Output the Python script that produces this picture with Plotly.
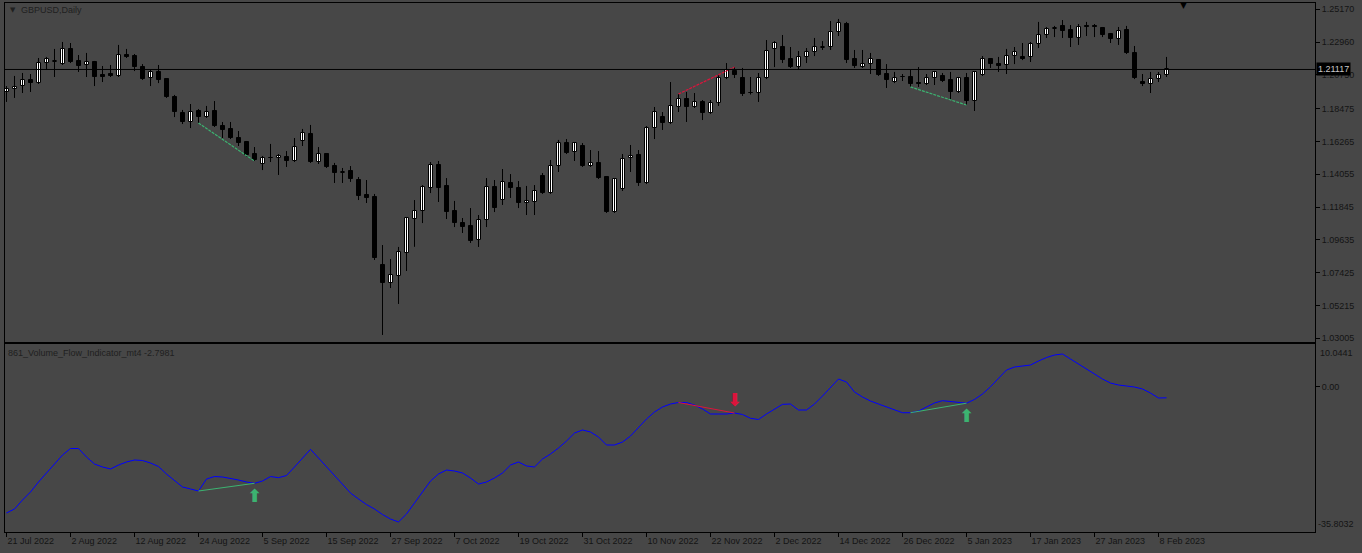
import plotly.graph_objects as go

# ---------------- data ----------------
OPEN = [1.1960, 1.1980, 1.2000, 1.2041, 1.2020, 1.2155, 1.2165, 1.2148, 1.2250, 1.2169,
        1.2142, 1.2162, 1.2074, 1.2081, 1.2068, 1.2206, 1.2202, 1.2128, 1.2054, 1.2095,
        1.2047, 1.1926, 1.1818, 1.1758, 1.1832, 1.1791, 1.1832, 1.1731, 1.1711, 1.1650,
        1.1623, 1.1542, 1.1475, 1.1515, 1.1515, 1.1522, 1.1495, 1.1630, 1.1677, 1.1488,
        1.1542, 1.1461, 1.1414, 1.1428, 1.1367, 1.1266, 1.1252, 1.0794, 1.0673, 1.0720,
        1.0875, 1.1104, 1.1158, 1.1313, 1.1468, 1.1327, 1.1158, 1.1077, 1.1057, 1.0963,
        1.1097, 1.1320, 1.1232, 1.1347, 1.1313, 1.1212, 1.1219, 1.1394, 1.1279, 1.1461,
        1.1616, 1.1556, 1.1596, 1.1461, 1.1482, 1.1387, 1.1151, 1.1306, 1.1515, 1.1535,
        1.1347, 1.1717, 1.1791, 1.1751, 1.1859, 1.1913, 1.1859, 1.1893, 1.1818, 1.1886,
        1.2054, 1.2101, 1.2054, 1.1953, 1.1953, 1.2054, 1.2250, 1.2263, 1.2182, 1.2128,
        1.2196, 1.2229, 1.2256, 1.2263, 1.2364, 1.2418, 1.2182, 1.2128, 1.2149, 1.2175,
        1.2081, 1.2027, 1.2061, 1.2061, 1.2020, 1.2014, 1.2054, 1.2068, 1.2041, 1.1960,
        1.2054, 1.1899, 1.2074, 1.2182, 1.2149, 1.2142, 1.2202, 1.2196, 1.2196, 1.2283,
        1.2344, 1.2384, 1.2405, 1.2378, 1.2324, 1.2403, 1.2405, 1.2391, 1.2351, 1.2317,
        1.2378, 1.2223, 1.2027, 1.2014, 1.2047, 1.2074]
HIGH = [1.2000, 1.2068, 1.2088, 1.2081, 1.2189, 1.2196, 1.2250, 1.2297, 1.2290, 1.2209,
        1.2223, 1.2169, 1.2135, 1.2142, 1.2277, 1.2250, 1.2216, 1.2148, 1.2108, 1.2142,
        1.2054, 1.1940, 1.1839, 1.1879, 1.1845, 1.1866, 1.1899, 1.1758, 1.1758, 1.1697,
        1.1630, 1.1589, 1.1529, 1.1610, 1.1542, 1.1562, 1.1650, 1.1711, 1.1738, 1.1589,
        1.1549, 1.1482, 1.1448, 1.1461, 1.1387, 1.1367, 1.1273, 1.0929, 1.0835, 1.0916,
        1.1118, 1.1232, 1.1333, 1.1488, 1.1495, 1.1380, 1.1226, 1.1111, 1.1178, 1.1131,
        1.1380, 1.1367, 1.1441, 1.1407, 1.1360, 1.1327, 1.1333, 1.1414, 1.1502, 1.1637,
        1.1643, 1.1623, 1.1616, 1.1569, 1.1562, 1.1394, 1.1380, 1.1542, 1.1603, 1.1569,
        1.1731, 1.1859, 1.1825, 1.2027, 1.1946, 1.1960, 1.1953, 1.1906, 1.1906, 1.2081,
        1.2155, 1.2128, 1.2122, 1.2061, 1.2088, 1.2310, 1.2303, 1.2344, 1.2263, 1.2236,
        1.2256, 1.2324, 1.2303, 1.2438, 1.2452, 1.2432, 1.2243, 1.2243, 1.2223, 1.2182,
        1.2148, 1.2095, 1.2081, 1.2108, 1.2128, 1.2081, 1.2101, 1.2088, 1.2095, 1.2061,
        1.2088, 1.2101, 1.2202, 1.2189, 1.2196, 1.2250, 1.2263, 1.2290, 1.2297, 1.2432,
        1.2398, 1.2405, 1.2445, 1.2411, 1.2418, 1.2432, 1.2418, 1.2398, 1.2357, 1.2398,
        1.2405, 1.2270, 1.2081, 1.2095, 1.2095, 1.2196]
LOW = [1.1893, 1.1920, 1.1953, 1.1960, 1.2014, 1.2108, 1.2061, 1.2142, 1.2155, 1.2095,
       1.2061, 1.2000, 1.2027, 1.2061, 1.2061, 1.2189, 1.2101, 1.2041, 1.2000, 1.2020,
       1.1920, 1.1791, 1.1744, 1.1717, 1.1751, 1.1785, 1.1724, 1.1650, 1.1643, 1.1596,
       1.1522, 1.1495, 1.1434, 1.1488, 1.1401, 1.1455, 1.1488, 1.1596, 1.1482, 1.1475,
       1.1448, 1.1347, 1.1347, 1.1354, 1.1232, 1.1212, 1.0828, 1.0323, 1.0639, 1.0532,
       1.0754, 1.0917, 1.1077, 1.1279, 1.1219, 1.1104, 1.1050, 1.1010, 1.0943, 1.0916,
       1.1050, 1.1151, 1.1199, 1.1246, 1.1178, 1.1131, 1.1131, 1.1273, 1.1273, 1.1421,
       1.1542, 1.1495, 1.1455, 1.1455, 1.1374, 1.1145, 1.1145, 1.1293, 1.1421, 1.1327,
       1.1340, 1.1643, 1.1704, 1.1744, 1.1825, 1.1758, 1.1852, 1.1771, 1.1812, 1.1866,
       1.2047, 1.2054, 1.1933, 1.1943, 1.1893, 1.2047, 1.2128, 1.2155, 1.2122, 1.2108,
       1.2155, 1.2202, 1.2243, 1.2243, 1.2337, 1.2155, 1.2122, 1.2122, 1.2081, 1.2068,
       1.1987, 1.2020, 1.2034, 1.1994, 1.1994, 1.2007, 1.2007, 1.2027, 1.1906, 1.1953,
       1.1872, 1.1832, 1.2068, 1.2122, 1.2095, 1.2081, 1.2148, 1.2175, 1.2162, 1.2256,
       1.2324, 1.2330, 1.2324, 1.2263, 1.2277, 1.2337, 1.2330, 1.2330, 1.2290, 1.2277,
       1.2216, 1.2047, 1.2000, 1.1953, 1.2027, 1.2061]
CLOSE = [1.1980, 1.1994, 1.2041, 1.2020, 1.2155, 1.2182, 1.2169, 1.2250, 1.2162, 1.2135,
         1.2162, 1.2061, 1.2061, 1.2068, 1.2209, 1.2199, 1.2128, 1.2047, 1.2095, 1.2041,
         1.1926, 1.1825, 1.1758, 1.1825, 1.1791, 1.1825, 1.1731, 1.1704, 1.1650, 1.1616,
         1.1535, 1.1502, 1.1515, 1.1512, 1.1529, 1.1495, 1.1589, 1.1684, 1.1488, 1.1542,
         1.1455, 1.1414, 1.1424, 1.1374, 1.1259, 1.1246, 1.0841, 1.0673, 1.0727, 1.0882,
         1.1111, 1.1158, 1.1320, 1.1468, 1.1313, 1.1151, 1.1077, 1.1050, 1.0956, 1.1097,
         1.1320, 1.1178, 1.1354, 1.1313, 1.1212, 1.1226, 1.1293, 1.1279, 1.1461, 1.1616,
         1.1549, 1.1616, 1.1461, 1.1482, 1.1380, 1.1151, 1.1374, 1.1508, 1.1529, 1.1347,
         1.1717, 1.1825, 1.1751, 1.1866, 1.1913, 1.1859, 1.1893, 1.1818, 1.1886, 1.2054,
         1.2108, 1.2074, 1.1946, 1.1956, 1.2054, 1.2236, 1.2290, 1.2175, 1.2128, 1.2196,
         1.2229, 1.2263, 1.2263, 1.2364, 1.2425, 1.2175, 1.2135, 1.2149, 1.2182, 1.2074,
         1.2041, 1.2054, 1.2059, 1.2014, 1.2014, 1.2054, 1.2095, 1.2034, 1.1960, 1.2054,
         1.1899, 1.2095, 1.2182, 1.2149, 1.2135, 1.2202, 1.2229, 1.2182, 1.2283, 1.2344,
         1.2384, 1.2394, 1.2371, 1.2324, 1.2398, 1.2400, 1.2398, 1.2344, 1.2317, 1.2371,
         1.2223, 1.2054, 1.2014, 1.2047, 1.2074, 1.21117]

# Volume Flow Indicator values
IND = [-31.34, -30.35, -28.12, -26.14, -23.66, -21.43, -19.20, -16.97, -15.36, -15.36,
       -17.46, -19.20, -19.94, -20.44, -19.45, -18.70, -18.21, -18.33, -18.95, -19.82,
       -21.68, -23.41, -24.90, -25.39, -25.89, -22.92, -22.30, -22.42, -22.74, -23.16,
       -23.66, -23.98, -23.41, -22.30, -22.59, -22.05, -19.94, -17.71, -15.56, -17.71,
       -19.94, -22.17, -24.40, -26.39, -27.87, -29.24, -30.35, -31.71, -32.83, -33.57,
       -31.59, -28.86, -26.14, -23.41, -21.68, -20.69, -20.93, -21.43, -22.67, -24.16,
       -23.66, -22.67, -21.43, -19.45, -18.70, -19.69, -19.94, -17.96, -16.72, -15.23,
       -13.50, -11.52, -10.77, -11.27, -12.51, -14.49, -14.49, -13.75, -12.26, -10.03,
       -8.05, -6.31, -5.07, -4.33, -3.96, -3.96, -4.58, -5.57, -6.81, -6.81,
       -6.81, -6.56, -6.93, -7.87, -8.17, -6.81, -5.57, -4.41, -4.33, -5.82,
       -5.82, -4.33, -2.35, -0.12, 1.86, 1.12, -1.36, -2.60, -3.59, -4.33,
       -5.07, -5.82, -6.49, -6.49, -6.07, -5.07, -4.08, -3.51, -3.76, -3.91,
       -4.13, -3.20, -1.85, -0.04, 2.11, 4.09, 4.84, 5.09, 5.33, 6.32,
       7.19, 7.81, 8.06, 6.82, 5.58, 4.47, 3.10, 1.86, 0.87, 0.38,
       0.13, -0.12, -0.61, -1.61, -2.84, -2.7981]

# divergences: (start bar, end bar, type)
DIVERGENCES = [(24, 31, "bull"), (84, 91, "bear"), (113, 120, "bull")]

PRICE_TICKS = [1.25170, 1.22960, 1.20750, 1.18475, 1.16265, 1.14055,
               1.11845, 1.09635, 1.07425, 1.05215, 1.03005]
IND_MAX, IND_MIN = 10.0441, -35.8032
DATE_LABELS = ["21 Jul 2022", "2 Aug 2022", "12 Aug 2022", "24 Aug 2022", "5 Sep 2022",
               "15 Sep 2022", "27 Sep 2022", "7 Oct 2022", "19 Oct 2022", "31 Oct 2022",
               "10 Nov 2022", "22 Nov 2022", "2 Dec 2022", "14 Dec 2022", "26 Dec 2022",
               "5 Jan 2023", "17 Jan 2023", "27 Jan 2023", "8 Feb 2023"]
LABEL_STEP = 8
SYMBOL_TITLE = "GBPUSD,Daily"
IND_NAME = "861_Volume_Flow_Indicator_mt4"

# ---------------- styling ----------------
BG = "#474747"
TXT = "#141414"
FONT = "Liberation Sans"
GREEN = "#3CB371"
RED = "#DC143C"
W, H = 1362, 553
ML, MR, MT, MB = 5, 47, 3, 21

n = len(CLOSE)
idx = list(range(n))

fig = go.Figure()

# wicks
wx, wy = [], []
for i in idx:
    wx += [i, i, None]
    wy += [LOW[i], HIGH[i], None]
fig.add_trace(go.Scatter(x=wx, y=wy, mode="lines", line=dict(color="black", width=1),
                         xaxis="x", yaxis="y", hoverinfo="skip"))

# bodies
base = [min(o, c) for o, c in zip(OPEN, CLOSE)]
height = [max(abs(c - o), 0.00015) for o, c in zip(OPEN, CLOSE)]
colors = ["white" if c >= o else "black" for o, c in zip(OPEN, CLOSE)]
fig.add_trace(go.Bar(x=idx, y=height, base=base, width=0.5,
                     marker=dict(color=colors, line=dict(color="black", width=1)),
                     xaxis="x", yaxis="y", hoverinfo="skip"))

# divergence lines on price and indicator
for a, b, kind in DIVERGENCES:
    col = GREEN if kind == "bull" else RED
    src = LOW if kind == "bull" else HIGH
    fig.add_trace(go.Scatter(x=[a, b], y=[src[a], src[b]], mode="lines",
                             line=dict(color=col, width=1.2, dash="3px,1px"),
                             xaxis="x", yaxis="y", hoverinfo="skip"))

# indicator line
fig.add_trace(go.Scatter(x=idx, y=IND, mode="lines", line=dict(color="#0000FF", width=1),
                         xaxis="x2", yaxis="y2", hoverinfo="skip"))
for a, b, kind in DIVERGENCES:
    col = GREEN if kind == "bull" else RED
    fig.add_trace(go.Scatter(x=[a, b], y=[IND[a], IND[b]], mode="lines",
                             line=dict(color=col, width=1),
                             xaxis="x2", yaxis="y2", hoverinfo="skip"))

# geometry
plot_h = H - MT - MB
main_bottom_px, ind_top_px = 342, 344
main_dom = [(H - MB - main_bottom_px) / plot_h, 1]
ind_dom = [0, (H - MB - ind_top_px) / plot_h]
half_px = 0.0625  # half a pixel in bar units, keeps 1px wicks crisp
xr = [-0.125 - half_px, 163.625 - half_px]

axis_common = dict(showgrid=False, zeroline=False, showline=True, mirror=True,
                   linecolor="black", linewidth=1)

annotations = []
# signal arrows (thick arrow glyphs) next to the indicator value
for a, b, kind in DIVERGENCES:
    if kind == "bull":
        annotations.append(dict(x=b, y=IND[b], xref="x2", yref="y2", text="<b>⬆</b>",
                                showarrow=False, xanchor="center", yanchor="middle",
                                yshift=-12, font=dict(family="DejaVu Sans", size=18, color=GREEN)))
    else:
        annotations.append(dict(x=b, y=IND[b], xref="x2", yref="y2", text="<b>⬇</b>",
                                showarrow=False, xanchor="center", yanchor="middle",
                                yshift=13, font=dict(family="DejaVu Sans", size=18, color=RED)))

def px_x(px):
    return (px - ML) / (W - ML - MR)

def px_y(py):
    return (H - MB - py) / plot_h

annotations += [
    dict(x=px_x(8), y=px_y(10), xref="paper", yref="paper", text="▼", showarrow=False,
         xanchor="left", yanchor="middle", font=dict(family="DejaVu Sans", size=7, color="#202020")),
    dict(x=px_x(19), y=px_y(10), xref="paper", yref="paper", text=SYMBOL_TITLE,
         showarrow=False, xanchor="left", yanchor="middle",
         font=dict(family=FONT, size=9, color="#202020")),
    dict(x=px_x(6), y=px_y(353), xref="paper", yref="paper",
         text=f"{IND_NAME} {IND[-1]:.4f}", showarrow=False, xanchor="left", yanchor="middle",
         font=dict(family=FONT, size=9, color="#202020")),
    dict(x=px_x(1183), y=px_y(5), xref="paper", yref="paper", text="▼", showarrow=False,
         xanchor="center", yanchor="middle", font=dict(family="DejaVu Sans", size=9, color="black")),
    dict(x=1, y=IND_MAX, xref="paper", yref="y2", text=f"{IND_MAX:.4f}", showarrow=False,
         xanchor="left", yanchor="top", xshift=3,
         font=dict(family=FONT, size=9, color=TXT)),
    dict(x=1, y=IND_MIN, xref="paper", yref="y2", text=f"{IND_MIN:.4f}", showarrow=False,
         xanchor="left", yanchor="bottom", xshift=1,
         font=dict(family=FONT, size=9, color=TXT)),
    dict(x=1, y=CLOSE[-1], xref="paper", yref="y", text=f"{CLOSE[-1]:.5f}", showarrow=False,
         xanchor="left", yanchor="middle", xshift=1, bgcolor="black", borderpad=1,
         font=dict(family=FONT, size=9, color="#c8c8c8")),
]

fig.update_layout(
    width=W, height=H, margin=dict(l=ML, r=MR, t=MT, b=MB),
    paper_bgcolor=BG, plot_bgcolor=BG, showlegend=False, hovermode=False,
    font=dict(family=FONT, size=9, color=TXT),
    bargap=0,
    xaxis=dict(domain=[0, 1], range=xr, anchor="y", showticklabels=False, ticks="",
               **axis_common),
    xaxis2=dict(domain=[0, 1], range=xr, anchor="y2",
                tickvals=list(range(0, n, LABEL_STEP))[:len(DATE_LABELS)],
                ticktext=DATE_LABELS, ticks="outside", ticklen=4, tickcolor="black",
                ticklabelposition="outside right",
                tickfont=dict(family=FONT, size=9, color=TXT), **axis_common),
    yaxis=dict(domain=main_dom, range=[1.02756, 1.25595], side="right", anchor="x",
               tickvals=PRICE_TICKS, ticktext=[f"{v:.5f}" for v in PRICE_TICKS],
               ticks="outside", ticklen=4, tickcolor="black",
               tickfont=dict(family=FONT, size=9, color=TXT), **axis_common),
    yaxis2=dict(domain=ind_dom, range=[-36.05, 10.54], side="right", anchor="x2",
                tickvals=[0], ticktext=["0.00"], ticks="outside", ticklen=4, tickcolor="black",
                tickfont=dict(family=FONT, size=9, color=TXT), **axis_common),
    shapes=[dict(type="line", xref="x domain", x0=0, x1=1, yref="y",
                 y0=CLOSE[-1], y1=CLOSE[-1], line=dict(color="black", width=1))],
    annotations=annotations,
)

fig.write_html("out.html")
